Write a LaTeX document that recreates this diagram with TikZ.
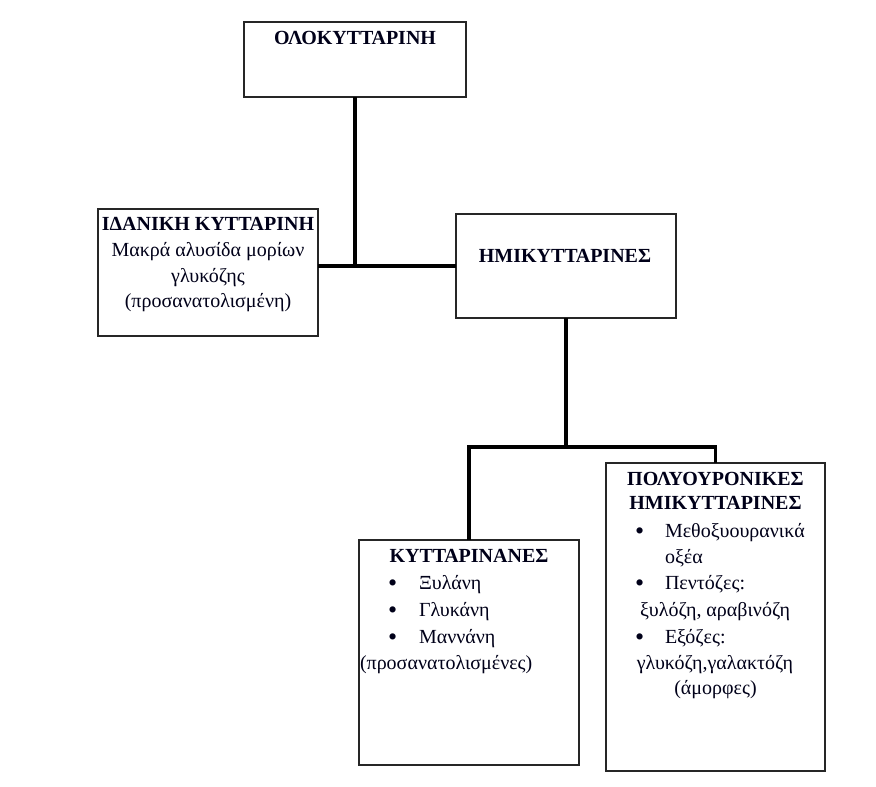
\documentclass[tikz,border=0pt]{standalone}
\usepackage{fontspec}
\setmainfont{Liberation Serif}
\begin{document}
\begin{tikzpicture}[x=1pt,y=-1pt,
  box/.style={draw=black!85, line width=1.3pt, inner sep=0pt, outer sep=0pt, anchor=north west, fill=none},
  conn/.style={draw=black, line width=3.5pt, line join=miter},
  txt/.style={inner sep=0pt, outer sep=0pt, anchor=base, font=\fontsize{20}{24}\selectfont, text=black!90!blue},
  ttl/.style={txt, font=\fontsize{20}{24}\selectfont\bfseries},
  ltxt/.style={txt, anchor=base west},
  bul/.style={txt, anchor=base west, font=\fontsize{26}{24}\selectfont}]
\useasboundingbox (0,0) rectangle (876,787);
\fill[white] (0,0) rectangle (876,787);

% boxes
\node[box, minimum width=222pt, minimum height=75pt] (olo) at (244,22) {};
\node[box, minimum width=220pt, minimum height=127pt] (idan) at (98,209) {};
\node[box, minimum width=220pt, minimum height=104pt] (hemi) at (456,214) {};
\node[box, minimum width=220pt, minimum height=225pt] (kyt) at (359,540) {};
\node[box, minimum width=219pt, minimum height=308pt] (poly) at (606,463) {};

% connectors
\coordinate (j) at (566,447);
\draw[conn] (olo.south) -- (olo.south |- hemi.west);
\draw[conn] (idan.east |- hemi.west) -- (hemi.west);
\draw[conn] (hemi.south) -- (j);
\draw[conn] (kyt.north) |- (j) -| (poly.north);

% texts: top box
\node[ttl] (olo-t) at (355,45) {ΟΛΟΚΥΤΤΑΡΙΝΗ};

% ideal cellulose
\node[ttl] (idan-t) at (208,230) {ΙΔΑΝΙΚΗ ΚΥΤΤΑΡΙΝΗ};
\node[txt] (idan-1) at (208,256) {Μακρά αλυσίδα μορίων};
\node[txt] (idan-2) at (208,282) {γλυκόζης};
\node[txt] (idan-3) at (208,307) {(προσανατολισμένη)};

% hemicelluloses
\node[ttl] (hemi-t) at (565,262) {ΗΜΙΚΥΤΤΑΡΙΝΕΣ};

% cellulosans
\node[ttl] (kyt-t) at (469,562) {ΚΥΤΤΑΡΙΝΑΝΕΣ};
\node[bul] (kyt-b1) at (388,591) {•};
\node[ltxt] (kyt-1) at (419,589) {Ξυλάνη};
\node[bul] (kyt-b2) at (388,618) {•};
\node[ltxt] (kyt-2) at (419,616) {Γλυκάνη};
\node[bul] (kyt-b3) at (388,645) {•};
\node[ltxt] (kyt-3) at (419,643) {Μαννάνη};
\node[ltxt] (kyt-4) at (360,669) {(προσανατολισμένες)};

% polyuronic hemicelluloses
\node[ttl] (poly-t1) at (715.5,485) {ΠΟΛΥΟΥΡΟΝΙΚΕΣ};
\node[ttl] (poly-t2) at (715.5,509) {ΗΜΙΚΥΤΤΑΡΙΝΕΣ};
\node[bul] (poly-b1) at (635,539) {•};
\node[ltxt] (poly-1) at (665,537) {Μεθοξυουρανικά};
\node[ltxt] (poly-1b) at (665,563) {οξέα};
\node[bul] (poly-b2) at (635,591) {•};
\node[ltxt] (poly-2) at (665,589) {Πεντόζες:};
\node[txt] (poly-2b) at (715,616) {ξυλόζη, αραβινόζη};
\node[bul] (poly-b3) at (635,645) {•};
\node[ltxt] (poly-3) at (665,643) {Εξόζες:};
\node[txt] (poly-3b) at (715,669) {γλυκόζη,γαλακτόζη};
\node[txt] (poly-4) at (715.5,694) {(άμορφες)};
\end{tikzpicture}
\end{document}
